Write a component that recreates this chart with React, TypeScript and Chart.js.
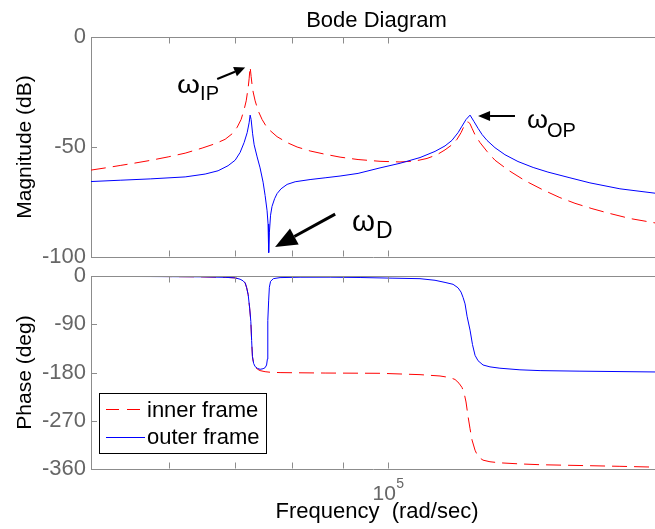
import React, { useEffect, useRef } from "react";
import { Chart, registerables } from "chart.js";

Chart.register(...registerables);

const FONT = '"Liberation Sans", Arial, Helvetica, sans-serif';
const RED = "#ff0000";
const BLUE = "#0000ff";
const AXIS_COLOR = "#8c8c8c";
const TICK_COLOR = "#666666";

// ---- axis ranges / ticks ----
const freqMin = 50100;
const freqMax = 186100;
const xTickValues = [60000, 70000, 80000, 90000, 100000];
const xLabelValue = 100000;
const magRange = [-100, 0];
const magStep = 50;
const phaseRange = [-360, 0];
const phaseStep = 90;

const seriesNames = ["inner frame", "outer frame"];

// ---- magnitude, inner frame (red dashed) ----
const magInnerFreq = [
  50100, 51800, 53620, 55500, 57500, 59950, 62370, 64880, 66890, 68450, 69570,
  70400, 71040, 71540, 71890, 72220, 72380, 72550, 72720, 72890, 73060, 73400,
  73910, 74600, 75290, 75990, 77240, 79070, 80930, 83410, 86380, 89430, 93260,
  98150, 102830, 106490, 109490, 112070, 114180, 116030, 117400, 118510,
  119350, 119890, 120460, 121020, 121580, 122440, 123860, 125890, 128240,
  132240, 137530, 143120, 149160, 154490, 160700, 166800, 175540, 186100,
];
const magInner = [
  -60.5, -59.5, -58.4, -57.3, -56.1, -54.5, -52.8, -50.5, -48.5, -46.5, -44,
  -41, -37.5, -33, -29, -23, -19, -13.5, -18, -22, -25, -29, -33.5, -37.5,
  -40.5, -42.5, -45.3, -48, -50, -51.8, -53.3, -54.6, -55.7, -56.5, -56.8,
  -56.4, -55.2, -53.5, -51.3, -49, -46.5, -43.5, -40.5, -39.2, -38.5, -39.5,
  -41.5, -44.5, -48, -52, -56, -60.5, -65.3, -69.3, -73, -75.6, -78, -80,
  -82.5, -84.5,
];

// ---- magnitude, outer frame (blue solid) ----
const magOuterFreq = [
  50100, 53620, 57500, 62370, 65340, 67340, 68920, 70070, 70870, 71540, 72050,
  72380, 72550, 72720, 72970, 73230, 73740, 74250, 74770, 75120, 75470, 75640,
  75750, 75870, 76080, 76340, 76800, 77240, 77960, 79070, 80560, 83410, 86380,
  89430, 93260, 98150, 102830, 107720, 111550, 114180, 116030, 117680, 118780,
  119890, 121020, 122160, 123290, 124440, 125890, 128240, 131250, 135300,
  140160, 145060, 152690, 159960, 171510, 186100,
];
const magOuter = [
  -65.7, -65.1, -64.5, -63.6, -62.3, -60.8, -58.5, -56, -52.5, -48, -43.5, -39,
  -35.5, -37.5, -44, -49, -54.5, -59.5, -66, -72, -79, -85, -98, -89, -81, -77,
  -73.5, -71.2, -69, -67, -65.8, -64.8, -64, -63.2, -62, -59.5, -57.4, -54.8,
  -52, -49.5, -47, -43.5, -40.5, -37.5, -35.5, -38.5, -41.5, -44.3, -47, -50.3,
  -53.5, -56.6, -59.3, -61.4, -64, -66.3, -69, -71,
];

// ---- phase, inner frame ----
const phInnerFreq = [
  50100, 57500, 64580, 68450, 70070, 70870, 71370, 71720, 71970, 72220, 72470,
  72670, 72800, 72940, 73140, 73400, 73830, 74250, 75120, 75990, 77780, 86380,
  98150, 107720, 112850, 115490, 116870, 117950, 118780, 119350, 119890,
  120460, 121020, 121580, 122440, 123290, 124730, 126770, 129740, 135930,
  142440, 156300, 171510, 186100,
];
const phInner = [
  -0.5, -0.8, -1.5, -2.5, -3.5, -6, -9, -13, -22, -35, -60, -85, -120, -150,
  -164, -170, -174, -176.5, -178.5, -179.5, -180.2, -181, -181.5, -184, -186.5,
  -189.5, -193, -200, -208, -218, -235, -262, -285, -306, -325, -337, -343.5,
  -346.5, -348.5, -350.5, -352, -353.5, -355, -356.5,
];

// ---- phase, outer frame ----
const phOuterFreq = [
  50100, 57500, 64580, 68450, 70070, 70870, 71370, 71720, 71970, 72220, 72470,
  72670, 72800, 72940, 73140, 73400, 73830, 74250, 74770, 75120, 75380, 75520,
  75570, 75620, 75750, 75870, 76080, 76570, 77780, 81490, 87400, 93700, 100930,
  107720, 111550, 114180, 116330, 117680, 118510, 119070, 119620, 120180,
  121020, 121710, 122440, 123290, 124730, 126770, 129740, 135930, 142440,
  156300, 186100,
];
const phOuter = [
  -0.8, -1, -1.5, -2.5, -3.5, -6, -9, -13, -22, -35, -60, -85, -120, -150,
  -163, -169, -172.5, -174, -173, -171, -166, -155, -120, -83, -45, -21, -10,
  -5, -3, -2.3, -2.2, -2.8, -4, -5, -8, -12, -15.5, -22, -30, -40, -52, -75,
  -101, -128, -148, -158, -166, -169.5, -172, -175, -176.5, -177.5, -179,
];

// ---- annotations (data coordinates: frequency, dB) ----
const annotations = [
  { sub: "IP", textAt: [61210, -25.5], subAt: [64580, -28.6], tail: [67200, -19.1], tip: [71720, -13.9], omegaSize: 26, omegaW: 23, subSize: 20, lineWidth: 2, headLen: 11, headHalf: 5 },
  { sub: "OP", textAt: [138170, -41.4], subAt: [144720, -45.5], tail: [134360, -35.9], tip: [123290, -35.9], omegaSize: 26, omegaW: 21, subSize: 20, lineWidth: 2, headLen: 12, headHalf: 5 },
  { sub: "D", textAt: [91970, -88.2], subAt: [97250, -91.4], tail: [88420, -80.5], tip: [76880, -95.5], omegaSize: 30, omegaW: 23, subSize: 23, lineWidth: 3, headLen: 22, headHalf: 9 },
];

const zip = (xs: number[], ys: number[]) => xs.map((x, i) => ({ x, y: ys[i] }));

function drawFrameTicks(chart: any) {
  const { ctx, chartArea: ca, scales } = chart;
  const xs = scales.x;
  const ys = scales.y;
  ctx.save();
  ctx.strokeStyle = AXIS_COLOR;
  ctx.lineWidth = 1;
  ctx.beginPath();
  const top = Math.round(ca.top) + 0.5;
  const bot = Math.round(ca.bottom) - 0.5;
  ctx.moveTo(ca.left, top);
  ctx.lineTo(ca.right, top);
  for (const v of xTickValues) {
    const px = Math.round(xs.getPixelForValue(v)) + 0.5;
    ctx.moveTo(px, bot);
    ctx.lineTo(px, bot - 6);
    ctx.moveTo(px, top);
    ctx.lineTo(px, top + 6);
  }
  for (const t of ys.ticks) {
    const py = Math.round(ys.getPixelForValue(t.value)) + 0.5;
    ctx.moveTo(ca.left, py);
    ctx.lineTo(ca.left + 6, py);
  }
  ctx.stroke();
  ctx.restore();
}

function drawArrow(ctx: CanvasRenderingContext2D, x1: number, y1: number, x2: number, y2: number, lw: number, hl: number, hh: number) {
  const ang = Math.atan2(y2 - y1, x2 - x1);
  const bx = x2 - Math.cos(ang) * hl;
  const by = y2 - Math.sin(ang) * hl;
  ctx.save();
  ctx.strokeStyle = "#000";
  ctx.fillStyle = "#000";
  ctx.lineWidth = lw;
  ctx.beginPath();
  ctx.moveTo(x1, y1);
  ctx.lineTo(bx, by);
  ctx.stroke();
  ctx.beginPath();
  ctx.moveTo(x2, y2);
  ctx.lineTo(bx + Math.sin(ang) * hh, by - Math.cos(ang) * hh);
  ctx.lineTo(bx - Math.sin(ang) * hh, by + Math.cos(ang) * hh);
  ctx.closePath();
  ctx.fill();
  ctx.restore();
}

const magPlugin = {
  id: "magDecor",
  afterDraw(chart: any) {
    drawFrameTicks(chart);
    const { ctx, chartArea: ca, scales } = chart;
    ctx.save();
    ctx.fillStyle = "#000";
    ctx.font = `22px ${FONT}`;
    ctx.textAlign = "center";
    ctx.textBaseline = "alphabetic";
    ctx.fillText("Bode Diagram", (ca.left + ca.right) / 2 + 3.5, ca.top - 10);
    for (const a of annotations) {
      const px = (p: number[]) => [scales.x.getPixelForValue(p[0]), scales.y.getPixelForValue(p[1])];
      const [tx, ty] = px(a.tail);
      const [hx, hy] = px(a.tip);
      drawArrow(ctx, tx, ty, hx, hy, a.lineWidth, a.headLen, a.headHalf);
      const [ox, oy] = px(a.textAt);
      const [sx, sy] = px(a.subAt);
      ctx.save();
      ctx.font = `${a.omegaSize}px ${FONT}`;
      ctx.textAlign = "left";
      const w = ctx.measureText("ω").width;
      ctx.translate(ox, oy);
      ctx.scale(a.omegaW / w, 1);
      ctx.fillText("ω", 0, 0);
      ctx.restore();
      ctx.font = `${a.subSize}px ${FONT}`;
      ctx.textAlign = "left";
      ctx.fillText(a.sub, sx, sy);
    }
    ctx.restore();
  },
};

const phasePlugin = {
  id: "phaseDecor",
  afterDraw(chart: any) {
    drawFrameTicks(chart);
    const { ctx, chartArea: ca, scales } = chart;
    ctx.save();
    // x tick label 10^5
    const px = scales.x.getPixelForValue(xLabelValue);
    ctx.font = `21px ${FONT}`;
    const w10 = ctx.measureText("10").width;
    ctx.font = `14px ${FONT}`;
    const w5 = ctx.measureText("5").width;
    const start = px - (w10 + w5) / 2;
    ctx.fillStyle = TICK_COLOR;
    ctx.textAlign = "left";
    ctx.textBaseline = "alphabetic";
    ctx.font = `21px ${FONT}`;
    ctx.fillText("10", start, ca.bottom + 31);
    ctx.font = `14px ${FONT}`;
    ctx.fillText("5", start + w10 + 0.5, ca.bottom + 19);
    // x axis title
    ctx.fillStyle = "#000";
    ctx.font = `22px ${FONT}`;
    ctx.textAlign = "center";
    ctx.fillText("Frequency  (rad/sec)", (ca.left + ca.right) / 2 + 4, ca.bottom + 49);
    // legend
    const lx = ca.left + 8;
    const ly = ca.top + 117;
    const lw = 167;
    const lh = 60;
    ctx.fillStyle = "#fff";
    ctx.fillRect(lx, ly, lw, lh);
    ctx.strokeStyle = "#000";
    ctx.lineWidth = 1;
    ctx.strokeRect(lx + 0.5, ly + 0.5, lw, lh);
    const items = [
      { name: seriesNames[0], color: RED, dash: [13, 8], lineY: 16, textY: 24 },
      { name: seriesNames[1], color: BLUE, dash: [], lineY: 44, textY: 51 },
    ];
    for (const it of items) {
      ctx.save();
      ctx.strokeStyle = it.color;
      ctx.setLineDash(it.dash);
      ctx.beginPath();
      ctx.moveTo(lx + 7, ly + it.lineY + 0.5);
      ctx.lineTo(lx + 46, ly + it.lineY + 0.5);
      ctx.stroke();
      ctx.restore();
      ctx.fillStyle = "#000";
      ctx.textAlign = "left";
      ctx.font = `22px ${FONT}`;
      ctx.fillText(it.name, lx + 48, ly + it.textY);
    }
    ctx.restore();
  },
};

function makeOptions(range: number[], step: number, title: string, padTop: number, padBottom: number) {
  return {
    responsive: false,
    animation: false as const,
    events: [] as any[],
    layout: { padding: { top: padTop, bottom: padBottom, left: 0, right: 0 } },
    plugins: { legend: { display: false }, title: { display: false }, tooltip: { enabled: false } },
    scales: {
      x: {
        type: "logarithmic" as const,
        min: freqMin,
        max: freqMax,
        ticks: { display: false },
        grid: { display: false, drawTicks: false },
        border: { display: true, color: AXIS_COLOR, width: 1 },
        afterFit: (s: any) => {
          s.height = 0;
        },
      },
      y: {
        type: "linear" as const,
        min: range[0],
        max: range[1],
        ticks: { stepSize: step, color: TICK_COLOR, font: { family: FONT, size: 22 }, padding: 5 },
        grid: { display: false, drawTicks: false },
        border: { display: true, color: AXIS_COLOR, width: 1 },
        title: {
          display: true,
          text: title,
          color: "#000",
          font: { family: FONT, size: 21 },
          padding: { top: 13, bottom: 0 },
        },
        afterFit: (s: any) => {
          s.width = 91;
        },
      },
    },
  };
}

function makeDatasets(innerF: number[], inner: number[], outerF: number[], outer: number[]) {
  return [
    {
      label: seriesNames[0],
      data: zip(innerF, inner),
      borderColor: RED,
      borderWidth: 1,
      borderDash: [15, 7],
      pointRadius: 0,
      fill: false,
      tension: 0,
      order: 1,
    },
    {
      label: seriesNames[1],
      data: zip(outerF, outer),
      borderColor: BLUE,
      borderWidth: 1,
      pointRadius: 0,
      fill: false,
      tension: 0,
      order: 0,
    },
  ];
}

export default function App() {
  const magRef = useRef<HTMLCanvasElement>(null);
  const phRef = useRef<HTMLCanvasElement>(null);

  useEffect(() => {
    const c1 = new Chart(magRef.current as HTMLCanvasElement, {
      type: "line",
      data: { datasets: makeDatasets(magInnerFreq, magInner, magOuterFreq, magOuter) as any },
      options: makeOptions(magRange, magStep, "Magnitude (dB)", 37, 272) as any,
      plugins: [magPlugin],
    });
    const c2 = new Chart(phRef.current as HTMLCanvasElement, {
      type: "line",
      data: { datasets: makeDatasets(phInnerFreq, phInner, phOuterFreq, phOuter) as any },
      options: makeOptions(phaseRange, phaseStep, "Phase (deg)", 276, 60) as any,
      plugins: [phasePlugin],
    });
    return () => {
      c1.destroy();
      c2.destroy();
    };
  }, []);

  const cs: React.CSSProperties = { position: "absolute", left: 0, top: 0, width: 655, height: 529 };
  return (
    <div style={{ position: "absolute", left: 0, top: 0, width: 655, height: 529, background: "#fff" }}>
      <canvas ref={magRef} width={655} height={529} style={cs} />
      <canvas ref={phRef} width={655} height={529} style={cs} />
    </div>
  );
}
